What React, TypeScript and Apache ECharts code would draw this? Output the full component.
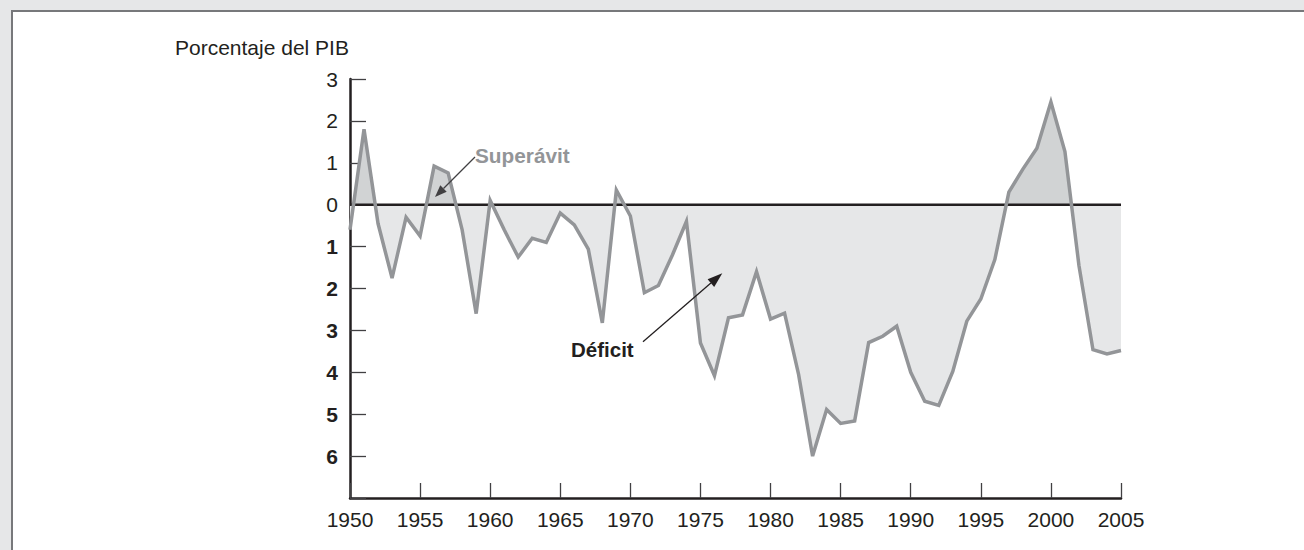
import React, { useEffect, useRef } from "react";
import * as echarts from "echarts";

const years = [
  1950, 1951, 1952, 1953, 1954, 1955, 1956, 1957, 1958, 1959,
  1960, 1961, 1962, 1963, 1964, 1965, 1966, 1967, 1968, 1969,
  1970, 1971, 1972, 1973, 1974, 1975, 1976, 1977, 1978, 1979,
  1980, 1981, 1982, 1983, 1984, 1985, 1986, 1987, 1988, 1989,
  1990, 1991, 1992, 1993, 1994, 1995, 1996, 1997, 1998, 1999,
  2000, 2001, 2002, 2003, 2004, 2005,
];

const balance = [
  -0.6, 1.8, -0.45, -1.75, -0.3, -0.75, 0.92, 0.76, -0.6, -2.6,
  0.1, -0.6, -1.25, -0.8, -0.9, -0.2, -0.48, -1.06, -2.82, 0.35,
  -0.27, -2.1, -1.93, -1.2, -0.4, -3.3, -4.08, -2.7, -2.63, -1.6,
  -2.73, -2.59, -4.05, -6.0, -4.89, -5.22, -5.16, -3.29, -3.14, -2.9,
  -4.0, -4.69, -4.79, -3.98, -2.78, -2.25, -1.31, 0.3, 0.85, 1.35,
  2.45, 1.27, -1.45, -3.46, -3.56, -3.48,
];

const xTicks = { min: 1950, max: 2005, interval: 5 };
const yTicks = { min: -7, max: 3, interval: 1 };

const titleText = "Porcentaje del PIB";
const surplusLabel = "Superávit";
const deficitLabel = "Déficit";

const FONT = "'Liberation Sans', Arial, Helvetica, sans-serif";
const DARK = "#231f20";
const SURPLUS_FILL = "#d1d3d4";
const DEFICIT_FILL = "#e6e7e8";

export default function App() {
  const ref = useRef<HTMLDivElement>(null);

  useEffect(() => {
    if (!ref.current) return;
    const chart = echarts.init(ref.current, undefined, { renderer: "svg" });
    const points = years.map((y, i) => [y, balance[i]]);
    const zero = [
      [years[0], 0],
      [years[years.length - 1], 0],
    ];

    chart.setOption({
      animation: false,
      backgroundColor: "transparent",
      grid: {
        left: 350,
        right: 183,
        top: 79,
        bottom: 52,
        containLabel: false,
        outerBoundsMode: "none",
      },
      xAxis: {
        type: "value",
        min: xTicks.min,
        max: xTicks.max,
        interval: xTicks.interval,
        splitLine: { show: false },
        axisLine: { show: true, onZero: false, lineStyle: { color: DARK, width: 2.5 } },
        axisTick: { show: true, inside: true, length: 15, lineStyle: { color: "#414042", width: 1.3 } },
        axisLabel: {
          margin: 11,
          color: DARK,
          fontSize: 21,
          fontFamily: FONT,
          formatter: (v: number) => String(v),
        },
      },
      yAxis: {
        type: "value",
        min: yTicks.min,
        max: yTicks.max,
        interval: yTicks.interval,
        splitLine: { show: false },
        axisLine: { show: true, onZero: false, lineStyle: { color: DARK, width: 2.5 } },
        axisTick: { show: true, inside: true, length: 16, lineStyle: { color: "#414042", width: 1.3 } },
        axisLabel: {
          margin: 12,
          color: DARK,
          fontSize: 21,
          fontFamily: FONT,
          formatter: (v: number) => (v === yTicks.min ? "" : v < 0 ? `{b|${-v}}` : `${v}`),
          rich: {
            b: { fontWeight: "bold", fontSize: 21, fontFamily: FONT, color: DARK },
          },
        },
      },
      series: [
        {
          id: "area",
          type: "line",
          data: points,
          z: 2,
          showSymbol: false,
          symbol: "none",
          silent: true,
          lineStyle: { width: 0, opacity: 0 },
          areaStyle: { opacity: 1, color: DEFICIT_FILL },
        },
        {
          type: "line",
          data: zero,
          z: 3,
          showSymbol: false,
          symbol: "none",
          silent: true,
          lineStyle: { color: DARK, width: 2.5 },
        },
        {
          type: "line",
          data: points,
          z: 4,
          showSymbol: false,
          symbol: "none",
          silent: true,
          lineStyle: { color: "#939598", width: 3.5, join: "miter", miterLimit: 10 },
        },
      ],
      graphic: [
        {
          type: "text",
          x: 175,
          y: 47,
          z: 100,
          silent: true,
          style: {
            text: titleText,
            fill: DARK,
            fontSize: 21,
            fontFamily: FONT,
            align: "left",
            verticalAlign: "middle",
          },
        },
        {
          type: "text",
          x: 475,
          y: 155,
          z: 100,
          silent: true,
          style: {
            text: surplusLabel,
            fill: "#939598",
            fontSize: 20.8,
            fontWeight: "bold",
            fontFamily: FONT,
            align: "left",
            verticalAlign: "middle",
          },
        },
        {
          type: "line",
          z: 100,
          silent: true,
          shape: { x1: 475, y1: 157, x2: 443.5, y2: 188.5 },
          style: { stroke: "#414042", lineWidth: 1.3 },
        },
        {
          type: "polygon",
          z: 100,
          silent: true,
          shape: { points: [[435, 197], [446.7, 191.7], [440.3, 185.3]] },
          style: { fill: "#414042" },
        },
        {
          type: "text",
          x: 571,
          y: 349,
          z: 100,
          silent: true,
          style: {
            text: deficitLabel,
            fill: DARK,
            fontSize: 20.5,
            fontWeight: "bold",
            fontFamily: FONT,
            align: "left",
            verticalAlign: "middle",
          },
        },
        {
          type: "line",
          z: 100,
          silent: true,
          shape: { x1: 643, y1: 341.7, x2: 710.9, y2: 283.1 },
          style: { stroke: DARK, lineWidth: 1.3 },
        },
        {
          type: "polygon",
          z: 100,
          silent: true,
          shape: { points: [[722.3, 273.3], [714.2, 286.9], [707.6, 279.3]] },
          style: { fill: DARK },
        },
      ],
    });

    // split the area fill colour at the zero line using the axis scale
    const top = chart.convertToPixel({ gridIndex: 0 }, [years[0], yTicks.max]) as number[];
    const bottom = chart.convertToPixel({ gridIndex: 0 }, [years[0], yTicks.min]) as number[];
    const zeroPx = chart.convertToPixel({ gridIndex: 0 }, [years[0], 0]) as number[];
    if (top && bottom && zeroPx) {
      const off = (zeroPx[1] - top[1]) / (bottom[1] - top[1]);
      chart.setOption({
        series: [
          {
            id: "area",
            areaStyle: {
              opacity: 1,
              color: new echarts.graphic.LinearGradient(
                0,
                top[1],
                0,
                bottom[1],
                [
                  { offset: 0, color: SURPLUS_FILL },
                  { offset: off, color: SURPLUS_FILL },
                  { offset: off, color: DEFICIT_FILL },
                  { offset: 1, color: DEFICIT_FILL },
                ],
                true
              ),
            },
          },
        ],
      });
    }

    return () => chart.dispose();
  }, []);

  return (
    <div
      style={{
        position: "fixed",
        left: 0,
        top: 0,
        width: 1304,
        height: 550,
        background: "#e6e7e8",
        overflow: "hidden",
      }}
    >
      <div
        style={{
          position: "absolute",
          left: 11,
          top: 10,
          width: 1400,
          height: 700,
          background: "#ffffff",
          borderLeft: "2px solid #77787b",
          borderTop: "2px solid #77787b",
        }}
      />
      <div ref={ref} style={{ position: "absolute", left: 0, top: 0, width: 1304, height: 550 }} />
    </div>
  );
}
